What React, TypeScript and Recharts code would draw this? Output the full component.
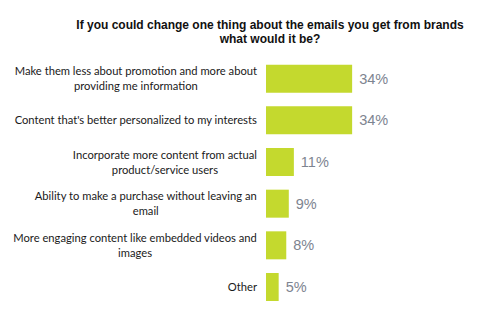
import { BarChart, Bar, XAxis, YAxis, LabelList } from "recharts";

const categories = [
  "Make them less about promotion and more about\nproviding me information",
  "Content that's better personalized to my interests",
  "Incorporate more content from actual\nproduct/service users",
  "Ability to make a purchase without leaving an\nemail",
  "More engaging content like embedded videos and\nimages",
  "Other",
];
const shares = [34, 34, 11, 9, 8, 5];

const data = categories.map((name, i) => ({ name, value: shares[i] }));

const BAR = "#c4d92e";
const TICK_SIZE = 11.2;

let ctx: CanvasRenderingContext2D | null = null;
function measure(s: string) {
  if (!ctx) ctx = document.createElement("canvas").getContext("2d");
  ctx!.font = `${TICK_SIZE}px Lato`;
  return ctx!.measureText(s).width;
}

// multi-line labels are centred on each other, right-aligned as a block
function CategoryTick(props: any) {
  const { x, y, payload } = props;
  const lines = String(payload.value).split("\n");
  const w = Math.max(...lines.map(measure));
  const cx = x - w / 2;
  const lh = 15;
  const start = y - ((lines.length - 1) * lh) / 2;
  return (
    <text
      textAnchor="middle"
      style={{ fontFamily: "Lato, sans-serif", fontSize: TICK_SIZE, fill: "#1a1a1a" }}
    >
      {lines.map((l, i) => (
        <tspan key={i} x={cx} y={start + i * lh} dy="0.35em">
          {l}
        </tspan>
      ))}
    </text>
  );
}

export default function App() {
  return (
    <div style={{ position: "absolute", left: 0, top: 0, width: 503, height: 318, background: "#fff" }}>
      <div
        style={{
          position: "absolute",
          left: 70,
          width: 400,
          top: 18,
          textAlign: "center",
          fontFamily: "Arial, 'Liberation Sans', sans-serif",
          fontWeight: "bold",
          fontSize: 12,
          lineHeight: "14px",
          color: "#111",
        }}
      >
        If you could change one thing about the emails you get from brands
        <br />
        what would it be?
      </div>
      <BarChart
        width={503}
        height={318}
        data={data}
        layout="vertical"
        margin={{ top: 58, right: 85, bottom: 10, left: 0 }}
        barCategoryGap="16%"
      >
        <XAxis type="number" domain={[0, 60]} hide />
        <YAxis
          type="category"
          dataKey="name"
          width={266}
          axisLine={false}
          tickLine={false}
          tickSize={0}
          tickMargin={9}
          tick={<CategoryTick />}
          interval={0}
        />
        <Bar dataKey="value" fill={BAR} isAnimationActive={false}>
          <LabelList
            dataKey="value"
            position="right"
            offset={7}
            formatter={(v: number) => `${v}%`}
            style={{ fontFamily: "Arial, 'Liberation Sans', sans-serif", fontSize: 14.5, fill: "#7d8490" }}
          />
        </Bar>
      </BarChart>
    </div>
  );
}
